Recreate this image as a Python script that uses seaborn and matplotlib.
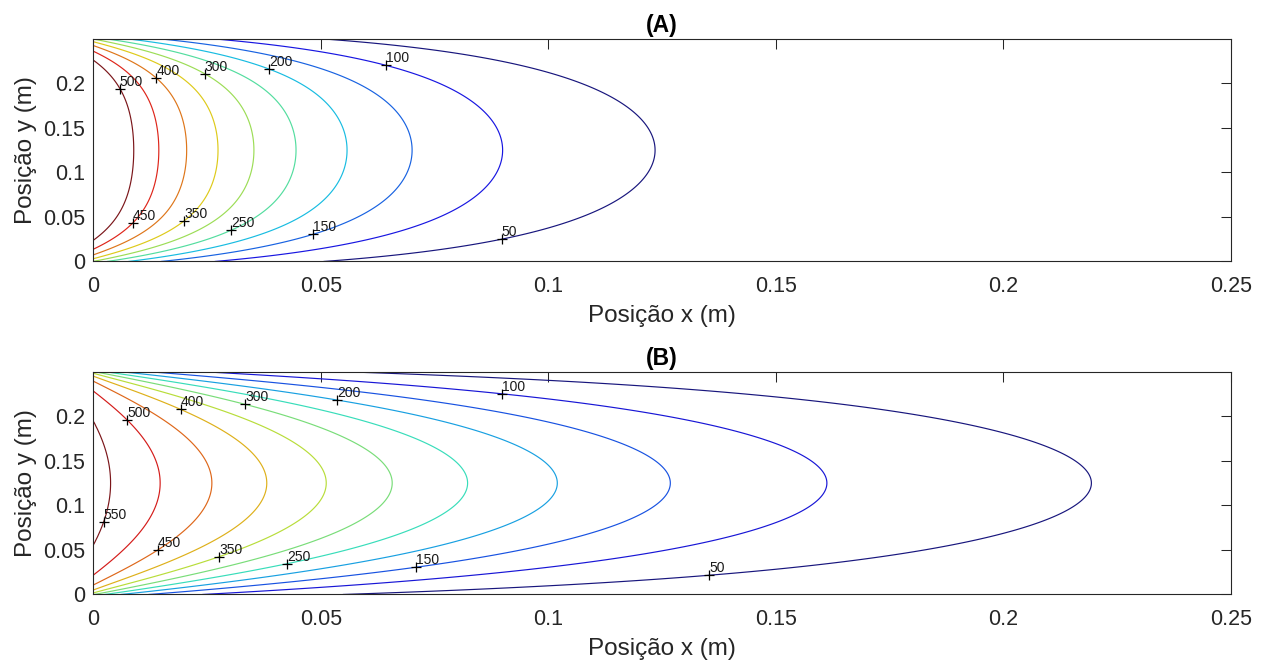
import numpy as np
import matplotlib
matplotlib.use("Agg")
import matplotlib.pyplot as plt
from matplotlib.ticker import FuncFormatter
import seaborn as sns

# Plate geometry (m)
PLATE_HEIGHT = 0.25
PLATE_LENGTH = 0.25

# Isotherm levels (°C)
levels_A = [50, 100, 150, 200, 250, 300, 350, 400, 450, 500]
levels_B = [50, 100, 150, 200, 250, 300, 350, 400, 450, 500, 550]

# Case parameters: hot-fluid temperature, h/k at the heated edge,
# h/k at the long edges, fin parameter m
T_inf_A, hk_left_A, hk_edge_A, m_A = 939.78, 32.144, 72.236, 18.034
T_inf_B, hk_left_B, hk_edge_B, m_B = 610.9, 109.16, 106.42, 2.715

# Isotherm label values and where they sit
label_values_A = [500, 400, 300, 200, 100, 450, 350, 250, 150, 50]
label_x_A = [0.0043, 0.0140, 0.0248, 0.0388, 0.0643, 0.0086, 0.0205, 0.0306, 0.0485, 0.0898]
label_y_A = [0.1898, 0.2066, 0.2137, 0.2167, 0.2193, 0.0436, 0.0429, 0.0317, 0.0287, 0.0261]

label_values_B = [550, 500, 400, 300, 200, 450, 350, 250, 150, 100, 50]
label_x_B = [0.0017, 0.0074, 0.0191, 0.0333, 0.0535, 0.0143, 0.0276, 0.0426, 0.0709, 0.0899, 0.1355]
label_y_B = [0.0830, 0.1945, 0.2076, 0.2136, 0.2177, 0.0505, 0.0419, 0.0344, 0.0300, 0.2241, 0.0213]


def eigenvalues(hk_edge, n_modes=40):
    """Symmetric eigenvalues of lam*tan(lam*H/2) = h/k (convective long edges)."""
    a = PLATE_HEIGHT / 2
    n = np.arange(n_modes)
    lo = n * np.pi / a + 1e-12
    hi = (n * np.pi + np.pi / 2) / a - 1e-9
    for _ in range(60):
        mid = 0.5 * (lo + hi)
        f = mid * np.tan(mid * a) - hk_edge
        lo = np.where(f < 0, mid, lo)
        hi = np.where(f >= 0, mid, hi)
    return 0.5 * (lo + hi)


def plate_temperature(x, y, T_inf, hk_left, hk_edge, m):
    """Series solution of the steady 2-D fin equation on the plate."""
    a = PLATE_HEIGHT / 2
    lam = eigenvalues(hk_edge)
    beta = np.sqrt(lam ** 2 + m ** 2)
    proj = (2 * np.sin(lam * a) / lam) / (a + np.sin(2 * lam * a) / (2 * lam))
    amp = T_inf * proj * hk_left / (hk_left + beta)
    Cy = np.cos(np.outer(y - a, lam))          # (ny, modes)
    Ex = np.exp(-np.outer(beta, x))            # (modes, nx)
    return (Cy * amp) @ Ex


def isotherm_colors(levels):
    """Jet colours over the level range, slightly muted."""
    jet = plt.get_cmap("jet")
    t = (np.array(levels) - min(levels)) / (max(levels) - min(levels))
    rgb = jet(t)[:, :3]
    grey = np.array([0.42, 0.40, 0.46])
    return [tuple(0.78 * c + 0.22 * grey) for c in rgb]


sns.set_style("white")
plt.rcParams["font.family"] = ["Liberation Sans", "DejaVu Sans"]
edge = "#262626"

fig = plt.figure(figsize=(12.69, 6.66), dpi=100)
ax_A = fig.add_axes([0.0735, 0.6074, 0.8963, 0.3341])
ax_B = fig.add_axes([0.0735, 0.1074, 0.8963, 0.3345])

xg = np.linspace(0, PLATE_LENGTH, 900)
yg = np.linspace(0, PLATE_HEIGHT, 450)

panels = [
    (ax_A, "(A)", (T_inf_A, hk_left_A, hk_edge_A, m_A), levels_A, label_values_A, label_x_A, label_y_A),
    (ax_B, "(B)", (T_inf_B, hk_left_B, hk_edge_B, m_B), levels_B, label_values_B, label_x_B, label_y_B),
]

for ax, title, prm, levels, lab_v, lab_x, lab_y in panels:
    Z = plate_temperature(xg, yg, *prm)
    cs = ax.contour(xg, yg, Z, levels=levels, colors=isotherm_colors(levels), linewidths=0.85)

    # MATLAB-style labels: a "+" on the isotherm with the value beside it
    for v, lx, ly in zip(lab_v, lab_x, lab_y):
        segs = [s for s in cs.allsegs[levels.index(v)] if len(s)]
        pts = np.vstack(segs)
        d = ((pts[:, 0] - lx) * 4550) ** 2 + ((pts[:, 1] - ly) * 890) ** 2
        px, py = pts[np.argmin(d)]
        ax.plot(px, py, marker="+", color="black", ms=7.5, mew=0.9, zorder=5)
        ax.text(px, py, f"{v}", fontsize=10, ha="left", va="bottom", color="#1a1a1a", zorder=6)

    ax.set_xlim(0, PLATE_LENGTH)
    ax.set_ylim(0, PLATE_HEIGHT)
    ax.set_xticks(np.arange(0, 0.2501, 0.05))
    ax.set_yticks(np.arange(0, 0.2001, 0.05))
    fmt = FuncFormatter(lambda v, _: f"{v:g}")
    ax.xaxis.set_major_formatter(fmt)
    ax.yaxis.set_major_formatter(fmt)
    ax.tick_params(direction="in", length=7.5, width=0.75, top=True, right=True,
                   labelsize=15.5, colors=edge)
    ax.tick_params(axis="x", pad=10.5)
    ax.tick_params(axis="y", pad=6)
    for sp in ax.spines.values():
        sp.set_color(edge)
        sp.set_linewidth(0.8)
    ax.set_xlabel("Posição x (m)", fontsize=17.5, color=edge, labelpad=6)
    ax.set_ylabel("Posição y (m)", fontsize=17.5, color=edge, labelpad=4)
    ax.set_title(title, fontsize=16.5, fontweight="bold", color="black", pad=5)

fig.savefig("out.png", dpi=100, facecolor="white")
